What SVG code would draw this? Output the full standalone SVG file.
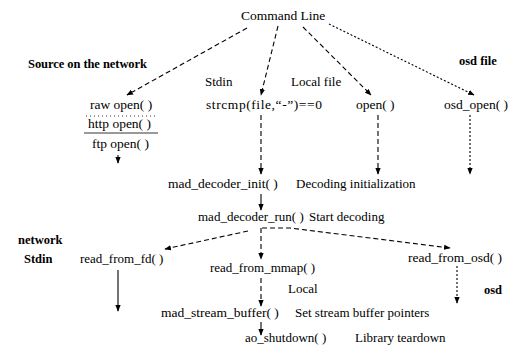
<svg xmlns="http://www.w3.org/2000/svg" width="514" height="357" viewBox="0 0 514 357" font-family="'Liberation Serif', 'DejaVu Serif', serif">
<defs>
<marker id="ah" viewBox="0 0 10 10" refX="9" refY="5" markerWidth="6" markerHeight="6" orient="auto">
<path d="M0,1 L10,5 L0,9 Z" fill="#000"/>
</marker>
<style>
text{font-family:'Liberation Serif','DejaVu Serif',serif;font-size:13.5px;fill:#000}
.b{font-weight:bold;font-size:12.5px}
.d{font-size:13px}
.s{font-size:13px}
.c line,.c path{stroke:#000;stroke-width:1.1;fill:none;marker-end:url(#ah)}
.dash{stroke-dasharray:5 3}
.dot{stroke-dasharray:2 2}
.sep{stroke:#000;stroke-width:0.8;fill:none}
</style>
</defs>
<rect width="514" height="357" fill="#fff"/>

<g id="labels">
<text class="b" x="28" y="68" textLength="119">Source on the network</text>
<text class="d" x="205" y="86">Stdin</text>
<text class="d" x="291" y="86">Local file</text>
<text class="b" x="459" y="65">osd file</text>
<text class="b" x="18" y="244">network</text>
<text class="b" x="24" y="263">Stdin</text>
<text class="d" x="288" y="293">Local</text>
<text class="b" x="484" y="294">osd</text>
</g>

<g id="cmd"><text x="241" y="20">Command Line</text></g>
<g id="net_open">
<text x="90" y="109">raw open( )</text>
<line class="sep" x1="86" y1="116" x2="156" y2="116" stroke-dasharray="1 3"/>
<text x="88" y="128">http open( )</text>
<line class="sep" x1="84" y1="133" x2="158" y2="133"/>
<text x="92" y="148">ftp open( )</text>
</g>
<g id="strcmp"><text x="206" y="109" textLength="116">strcmp(file,“-”)==0</text></g>
<g id="open"><text x="356" y="109">open( )</text></g>
<g id="osd_open"><text x="444" y="109">osd_open( )</text></g>
<g id="init"><text x="168" y="188">mad_decoder_init( )</text><text class="d" x="296" y="188">Decoding initialization</text></g>
<g id="run"><text class="s" x="198" y="221">mad_decoder_run( )</text><text class="d" x="309" y="221">Start decoding</text></g>
<g id="fd"><text class="s" x="80" y="263">read_from_fd( )</text></g>
<g id="mmap"><text class="s" x="210" y="272">read_from_mmap( )</text></g>
<g id="osdread"><text x="408" y="262">read_from_osd( )</text></g>
<g id="buffer"><text x="161" y="317">mad_stream_buffer( )</text><text class="d" x="295" y="317">Set stream buffer pointers</text></g>
<g id="shutdown"><text class="s" x="245" y="342">ao_shutdown( )</text><text class="d" x="355" y="342">Library teardown</text></g>

<g id="connectors" class="c">
<line class="dash" x1="247" y1="28" x2="127" y2="95"/>
<line class="dash" x1="278" y1="26" x2="261" y2="95"/>
<line class="dash" x1="303" y1="27" x2="371" y2="95"/>
<line class="dot" x1="329" y1="24" x2="474" y2="95"/>
<line x1="118" y1="155" x2="118" y2="163"/>
<line class="dash" x1="261" y1="115" x2="261" y2="174"/>
<line class="dash" x1="378" y1="115" x2="378" y2="174"/>
<line class="dot" x1="470" y1="115" x2="470" y2="174"/>
<line x1="261" y1="194" x2="261" y2="210"/>
<line class="dash" x1="248" y1="231" x2="165" y2="249"/>
<line class="dash" x1="261" y1="228" x2="261" y2="259"/>
<path class="dash" d="M262,228 L290,228 L450,248"/>
<line x1="118" y1="270" x2="118" y2="311"/>
<line class="dash" x1="261" y1="278" x2="261" y2="306"/>
<line class="dot" x1="457" y1="266" x2="457" y2="303"/>
<line x1="261" y1="322" x2="261" y2="335"/>
</g>
</svg>
